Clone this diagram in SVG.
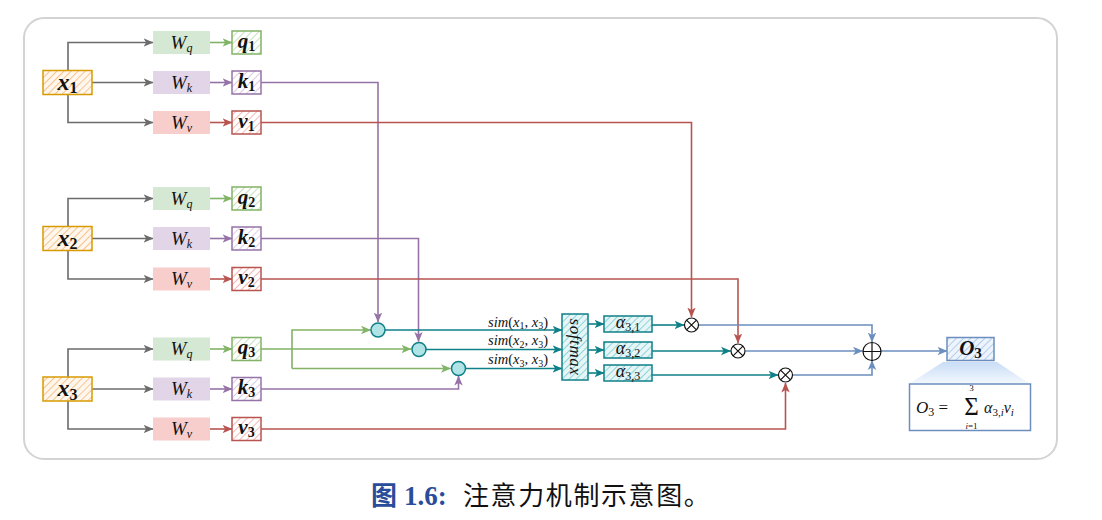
<svg xmlns="http://www.w3.org/2000/svg" width="1102" height="520" viewBox="0 0 1102 520">
<style>
.frame{fill:#fff;stroke:#d3d3d3;stroke-width:2}
.ln{fill:none;stroke-width:1.6}
.gray{stroke:#6b6b6b}
.grn{stroke:#82b366}
.pur{stroke:#9673a6}
.red{stroke:#b85450}
.teal{stroke:#0e8088}
.blue{stroke:#6c8ebf}
.m{font-family:"Liberation Serif","DejaVu Serif",serif;fill:#111}
.it{font-style:italic}
.bx{stroke-width:1.5}
.wq{fill:#d5e8d4}
.wk{fill:#e1d5e7}
.wv{fill:#f8cecc}
.xl{font-size:24px;font-weight:bold}
.vl{font-size:21px;font-weight:bold}
.wl{font-size:19px}
.sim{font-size:14.5px}
.al{font-size:18px}
.op{fill:#fff;stroke:#111;stroke-width:1.2}
.dot{fill:#b0e3e6;stroke:#0e8088;stroke-width:1.5}
</style>
<defs>
<pattern id="hx" width="5" height="5" patternUnits="userSpaceOnUse" patternTransform="rotate(45)"><rect width="5" height="5" fill="#fff7ee"/><line x1="0" y1="0" x2="0" y2="5" stroke="#f7c48d" stroke-width="2"/></pattern>
<pattern id="hq" width="5" height="5" patternUnits="userSpaceOnUse" patternTransform="rotate(45)"><rect width="5" height="5" fill="#fff"/><line x1="0" y1="0" x2="0" y2="5" stroke="#c5e0bd" stroke-width="2"/></pattern>
<pattern id="hk" width="5" height="5" patternUnits="userSpaceOnUse" patternTransform="rotate(45)"><rect width="5" height="5" fill="#fff"/><line x1="0" y1="0" x2="0" y2="5" stroke="#dccbe4" stroke-width="2"/></pattern>
<pattern id="hv" width="5" height="5" patternUnits="userSpaceOnUse" patternTransform="rotate(45)"><rect width="5" height="5" fill="#fff"/><line x1="0" y1="0" x2="0" y2="5" stroke="#f2b8b6" stroke-width="2"/></pattern>
<pattern id="ht" width="5" height="5" patternUnits="userSpaceOnUse" patternTransform="rotate(45)"><rect width="5" height="5" fill="#e6f6f7"/><line x1="0" y1="0" x2="0" y2="5" stroke="#8fd3d8" stroke-width="2"/></pattern>
<pattern id="hb" width="5" height="5" patternUnits="userSpaceOnUse" patternTransform="rotate(45)"><rect width="5" height="5" fill="#eef4fc"/><line x1="0" y1="0" x2="0" y2="5" stroke="#b4cdee" stroke-width="2"/></pattern>
<linearGradient id="tg" x1="0" y1="0" x2="0" y2="1"><stop offset="0" stop-color="#c8ddf6"/><stop offset="1" stop-color="#f4f8fe"/></linearGradient>
<marker id="ag" viewBox="0 0 10 10" refX="9.5" refY="5" markerWidth="10" markerHeight="10" markerUnits="userSpaceOnUse" orient="auto"><path d="M0,0.8 L10,5 L0,9.2 L2.6,5 z" fill="#6b6b6b"/></marker>
<marker id="agr" viewBox="0 0 10 10" refX="9.5" refY="5" markerWidth="10" markerHeight="10" markerUnits="userSpaceOnUse" orient="auto"><path d="M0,0.8 L10,5 L0,9.2 L2.6,5 z" fill="#82b366"/></marker>
<marker id="apu" viewBox="0 0 10 10" refX="9.5" refY="5" markerWidth="10" markerHeight="10" markerUnits="userSpaceOnUse" orient="auto"><path d="M0,0.8 L10,5 L0,9.2 L2.6,5 z" fill="#9673a6"/></marker>
<marker id="are" viewBox="0 0 10 10" refX="9.5" refY="5" markerWidth="10" markerHeight="10" markerUnits="userSpaceOnUse" orient="auto"><path d="M0,0.8 L10,5 L0,9.2 L2.6,5 z" fill="#b85450"/></marker>
<marker id="ate" viewBox="0 0 10 10" refX="9.5" refY="5" markerWidth="10" markerHeight="10" markerUnits="userSpaceOnUse" orient="auto"><path d="M0,0.8 L10,5 L0,9.2 L2.6,5 z" fill="#0e8088"/></marker>
<marker id="abl" viewBox="0 0 10 10" refX="9.5" refY="5" markerWidth="10" markerHeight="10" markerUnits="userSpaceOnUse" orient="auto"><path d="M0,0.8 L10,5 L0,9.2 L2.6,5 z" fill="#6c8ebf"/></marker>
</defs>

<rect class="frame" x="24" y="18" width="1033" height="441" rx="20"/>

<g id="connectors">
  <path class="ln gray" d="M68,82.5 V42.5 H153" marker-end="url(#ag)"/>
  <path class="ln gray" d="M92,82.5 H153" marker-end="url(#ag)"/>
  <path class="ln gray" d="M68,82.5 V122.5 H153" marker-end="url(#ag)"/>
  <path class="ln gray" d="M68,238.5 V198.5 H153" marker-end="url(#ag)"/>
  <path class="ln gray" d="M92,238.5 H153" marker-end="url(#ag)"/>
  <path class="ln gray" d="M68,238.5 V279 H153" marker-end="url(#ag)"/>
  <path class="ln gray" d="M68,389 V349 H153" marker-end="url(#ag)"/>
  <path class="ln gray" d="M92,389 H153" marker-end="url(#ag)"/>
  <path class="ln gray" d="M68,389 V429 H153" marker-end="url(#ag)"/>
  <path class="ln grn" d="M210,42.5 H232" marker-end="url(#agr)"/>
  <path class="ln pur" d="M210,82.5 H232" marker-end="url(#apu)"/>
  <path class="ln red" d="M210,122.5 H232" marker-end="url(#are)"/>
  <path class="ln grn" d="M210,198.5 H232" marker-end="url(#agr)"/>
  <path class="ln pur" d="M210,238.5 H232" marker-end="url(#apu)"/>
  <path class="ln red" d="M210,279 H232" marker-end="url(#are)"/>
  <path class="ln grn" d="M210,349 H232" marker-end="url(#agr)"/>
  <path class="ln pur" d="M210,389 H232" marker-end="url(#apu)"/>
  <path class="ln red" d="M210,429 H232" marker-end="url(#are)"/>
  <path class="ln pur" d="M261,82.5 H378 V322" marker-end="url(#apu)"/>
  <path class="ln pur" d="M261,238.5 H418.5 V341.5" marker-end="url(#apu)"/>
  <path class="ln pur" d="M261,389 H458.5 V376" marker-end="url(#apu)"/>
  <path class="ln grn" d="M261,349 H411" marker-end="url(#agr)"/>
  <path class="ln grn" d="M292,368.5 V330 H370.5" marker-end="url(#agr)"/>
  <path class="ln grn" d="M292,368.5 H450.5" marker-end="url(#agr)"/>
  <path class="ln red" d="M261,122.5 H691.5 V317" marker-end="url(#are)"/>
  <path class="ln red" d="M261,279 H738 V343" marker-end="url(#are)"/>
  <path class="ln red" d="M261,429 H785.5 V383" marker-end="url(#are)"/>
  <path class="ln teal" d="M385,330 H562" marker-end="url(#ate)"/>
  <path class="ln teal" d="M426,349.5 H562" marker-end="url(#ate)"/>
  <path class="ln teal" d="M465.5,368.5 H562" marker-end="url(#ate)"/>
  <path class="ln teal" d="M588,324 H604" marker-end="url(#ate)"/>
  <path class="ln teal" d="M588,350 H604" marker-end="url(#ate)"/>
  <path class="ln teal" d="M588,373 H604" marker-end="url(#ate)"/>
  <path class="ln teal" d="M652,325 H684" marker-end="url(#ate)"/>
  <path class="ln teal" d="M652,351 H730.5" marker-end="url(#ate)"/>
  <path class="ln teal" d="M652,375 H778" marker-end="url(#ate)"/>
  <path class="ln blue" d="M699,325 H872 V342" marker-end="url(#abl)"/>
  <path class="ln blue" d="M745.5,351 H862.5" marker-end="url(#abl)"/>
  <path class="ln blue" d="M793,375 H872 V360.5" marker-end="url(#abl)"/>
  <path class="ln blue" d="M881,351 H947" marker-end="url(#abl)"/>
</g>

<g id="x1">
  <rect class="bx" x="43" y="70.5" width="49" height="24" fill="url(#hx)" stroke="#d79b00"/>
  <text class="m xl" x="67.5" y="89.5" text-anchor="middle"><tspan class="it">x</tspan><tspan font-size="16" dy="3.5">1</tspan></text>
</g>
<g id="x2">
  <rect class="bx" x="43" y="226.5" width="49" height="24" fill="url(#hx)" stroke="#d79b00"/>
  <text class="m xl" x="67.5" y="245.5" text-anchor="middle"><tspan class="it">x</tspan><tspan font-size="16" dy="3.5">2</tspan></text>
</g>
<g id="x3">
  <rect class="bx" x="43" y="377" width="49" height="24" fill="url(#hx)" stroke="#d79b00"/>
  <text class="m xl" x="67.5" y="396" text-anchor="middle"><tspan class="it">x</tspan><tspan font-size="16" dy="3.5">3</tspan></text>
</g>

<g id="Wq1"><rect class="wq" x="153" y="31" width="57" height="23"/><text class="m wl" x="181.5" y="48.5" text-anchor="middle"><tspan class="it">W</tspan><tspan class="it" font-size="12" dy="3">q</tspan></text></g>
<g id="Wk1"><rect class="wk" x="153" y="71" width="57" height="23"/><text class="m wl" x="181.5" y="88.5" text-anchor="middle"><tspan class="it">W</tspan><tspan class="it" font-size="12" dy="3">k</tspan></text></g>
<g id="Wv1"><rect class="wv" x="153" y="111" width="57" height="23"/><text class="m wl" x="181.5" y="128.5" text-anchor="middle"><tspan class="it">W</tspan><tspan class="it" font-size="12" dy="3">v</tspan></text></g>
<g id="Wq2"><rect class="wq" x="153" y="187" width="57" height="23"/><text class="m wl" x="181.5" y="204.5" text-anchor="middle"><tspan class="it">W</tspan><tspan class="it" font-size="12" dy="3">q</tspan></text></g>
<g id="Wk2"><rect class="wk" x="153" y="227" width="57" height="23"/><text class="m wl" x="181.5" y="244.5" text-anchor="middle"><tspan class="it">W</tspan><tspan class="it" font-size="12" dy="3">k</tspan></text></g>
<g id="Wv2"><rect class="wv" x="153" y="267.5" width="57" height="23"/><text class="m wl" x="181.5" y="285" text-anchor="middle"><tspan class="it">W</tspan><tspan class="it" font-size="12" dy="3">v</tspan></text></g>
<g id="Wq3"><rect class="wq" x="153" y="337.5" width="57" height="23"/><text class="m wl" x="181.5" y="355" text-anchor="middle"><tspan class="it">W</tspan><tspan class="it" font-size="12" dy="3">q</tspan></text></g>
<g id="Wk3"><rect class="wk" x="153" y="377.5" width="57" height="23"/><text class="m wl" x="181.5" y="395" text-anchor="middle"><tspan class="it">W</tspan><tspan class="it" font-size="12" dy="3">k</tspan></text></g>
<g id="Wv3"><rect class="wv" x="153" y="417.5" width="57" height="23"/><text class="m wl" x="181.5" y="435" text-anchor="middle"><tspan class="it">W</tspan><tspan class="it" font-size="12" dy="3">v</tspan></text></g>

<g id="q1"><rect class="bx" x="232" y="31" width="29" height="23" fill="url(#hq)" stroke="#82b366"/><text class="m vl" x="246.5" y="47.5" text-anchor="middle"><tspan class="it">q</tspan><tspan font-size="14" dy="3">1</tspan></text></g>
<g id="k1"><rect class="bx" x="232" y="71" width="29" height="23" fill="url(#hk)" stroke="#9673a6"/><text class="m vl" x="246.5" y="87.5" text-anchor="middle"><tspan class="it">k</tspan><tspan font-size="14" dy="3">1</tspan></text></g>
<g id="v1"><rect class="bx" x="232" y="111" width="29" height="23" fill="url(#hv)" stroke="#b85450"/><text class="m vl" x="246.5" y="127.5" text-anchor="middle"><tspan class="it">v</tspan><tspan font-size="14" dy="3">1</tspan></text></g>
<g id="q2"><rect class="bx" x="232" y="187" width="29" height="23" fill="url(#hq)" stroke="#82b366"/><text class="m vl" x="246.5" y="203.5" text-anchor="middle"><tspan class="it">q</tspan><tspan font-size="14" dy="3">2</tspan></text></g>
<g id="k2"><rect class="bx" x="232" y="227" width="29" height="23" fill="url(#hk)" stroke="#9673a6"/><text class="m vl" x="246.5" y="243.5" text-anchor="middle"><tspan class="it">k</tspan><tspan font-size="14" dy="3">2</tspan></text></g>
<g id="v2"><rect class="bx" x="232" y="267.5" width="29" height="23" fill="url(#hv)" stroke="#b85450"/><text class="m vl" x="246.5" y="284" text-anchor="middle"><tspan class="it">v</tspan><tspan font-size="14" dy="3">2</tspan></text></g>
<g id="q3"><rect class="bx" x="232" y="337.5" width="29" height="23" fill="url(#hq)" stroke="#82b366"/><text class="m vl" x="246.5" y="354" text-anchor="middle"><tspan class="it">q</tspan><tspan font-size="14" dy="3">3</tspan></text></g>
<g id="k3"><rect class="bx" x="232" y="377.5" width="29" height="23" fill="url(#hk)" stroke="#9673a6"/><text class="m vl" x="246.5" y="394" text-anchor="middle"><tspan class="it">k</tspan><tspan font-size="14" dy="3">3</tspan></text></g>
<g id="v3"><rect class="bx" x="232" y="417.5" width="29" height="23" fill="url(#hv)" stroke="#b85450"/><text class="m vl" x="246.5" y="434" text-anchor="middle"><tspan class="it">v</tspan><tspan font-size="14" dy="3">3</tspan></text></g>

<g id="dot1"><circle class="dot" cx="378" cy="330" r="7"/></g>
<g id="dot2"><circle class="dot" cx="419" cy="349.5" r="7"/></g>
<g id="dot3"><circle class="dot" cx="458.5" cy="368.5" r="7"/></g>

<g id="sim-labels">
  <text class="m sim" x="548" y="326.5" text-anchor="end"><tspan class="it">sim</tspan>(<tspan class="it">x</tspan><tspan font-size="10" dy="2.5">1</tspan><tspan dy="-2.5">, </tspan><tspan class="it">x</tspan><tspan font-size="10" dy="2.5">3</tspan><tspan dy="-2.5">)</tspan></text>
  <text class="m sim" x="548" y="345" text-anchor="end"><tspan class="it">sim</tspan>(<tspan class="it">x</tspan><tspan font-size="10" dy="2.5">2</tspan><tspan dy="-2.5">, </tspan><tspan class="it">x</tspan><tspan font-size="10" dy="2.5">3</tspan><tspan dy="-2.5">)</tspan></text>
  <text class="m sim" x="548" y="364" text-anchor="end"><tspan class="it">sim</tspan>(<tspan class="it">x</tspan><tspan font-size="10" dy="2.5">3</tspan><tspan dy="-2.5">, </tspan><tspan class="it">x</tspan><tspan font-size="10" dy="2.5">3</tspan><tspan dy="-2.5">)</tspan></text>
</g>

<g id="softmax">
  <rect class="bx" x="562" y="314" width="26" height="66" fill="url(#ht)" stroke="#0e8088"/>
  <text class="m it" font-size="17" x="0" y="5" text-anchor="middle" letter-spacing="0.6" transform="translate(575,347) rotate(90)">softmax</text>
</g>

<g id="a31"><rect class="bx" x="604" y="316" width="48" height="16" fill="url(#ht)" stroke="#0e8088"/><text class="m al" x="628" y="328" text-anchor="middle"><tspan class="it">α</tspan><tspan font-size="12" dy="3">3,1</tspan></text></g>
<g id="a32"><rect class="bx" x="604" y="342" width="48" height="16" fill="url(#ht)" stroke="#0e8088"/><text class="m al" x="628" y="354" text-anchor="middle"><tspan class="it">α</tspan><tspan font-size="12" dy="3">3,2</tspan></text></g>
<g id="a33"><rect class="bx" x="604" y="365" width="48" height="16" fill="url(#ht)" stroke="#0e8088"/><text class="m al" x="628" y="377" text-anchor="middle"><tspan class="it">α</tspan><tspan font-size="12" dy="3">3,3</tspan></text></g>

<g id="mul1"><circle class="op" cx="691.5" cy="325" r="7"/><path class="op" d="M686.55,320.05 L696.45,329.95 M696.45,320.05 L686.55,329.95"/></g>
<g id="mul2"><circle class="op" cx="738" cy="351" r="7"/><path class="op" d="M733.05,346.05 L742.95,355.95 M742.95,346.05 L733.05,355.95"/></g>
<g id="mul3"><circle class="op" cx="785.5" cy="375" r="7"/><path class="op" d="M780.55,370.05 L790.45,379.95 M790.45,370.05 L780.55,379.95"/></g>

<g id="sum"><circle class="op" cx="872" cy="351.5" r="9"/><path class="op" d="M863,351.5 H881 M872,342.5 V360.5"/></g>

<g id="O3">
  <rect class="bx" x="947" y="337.5" width="47" height="23" fill="url(#hb)" stroke="#6c8ebf"/>
  <text class="m" font-size="21" font-weight="bold" x="970.5" y="355" text-anchor="middle"><tspan class="it">O</tspan><tspan font-size="15" dy="3">3</tspan></text>
</g>

<g id="formula">
  <polygon points="943,362 997,362 1030,384 909,384" fill="url(#tg)"/>
  <rect x="909.5" y="384" width="121" height="46.5" fill="#fff" stroke="#6c8ebf" stroke-width="1.5"/>
  <text class="m" font-size="17" x="916" y="413"><tspan class="it">O</tspan><tspan font-size="12" dy="3">3</tspan><tspan dy="-3"> =</tspan></text>
  <text class="m" font-size="25" x="971.5" y="414.5" text-anchor="middle">Σ</text>
  <text class="m" font-size="9" x="971.5" y="391" text-anchor="middle">3</text>
  <text class="m" font-size="9" x="971.5" y="428.5" text-anchor="middle"><tspan class="it">i</tspan>=1</text>
  <text class="m" font-size="16" x="984" y="413"><tspan class="it">α</tspan><tspan font-size="11" dy="3">3,</tspan><tspan class="it" font-size="11">i</tspan><tspan class="it" dy="-3">v</tspan><tspan class="it" font-size="11" dy="3">i</tspan></text>
</g>

<g id="caption">
  <text x="371" y="505" font-size="26" font-family="'Noto Sans CJK SC',sans-serif" font-weight="bold" fill="#2a4d9b">图</text>
  <text x="404" y="505" font-size="27" font-family="'Liberation Serif',serif" font-weight="bold" fill="#2a4d9b">1.6:</text>
  <text x="463" y="505" font-size="26" font-family="'Noto Sans CJK SC',sans-serif" fill="#111" letter-spacing="1.6">注意力机制示意图。</text>
</g>
</svg>
